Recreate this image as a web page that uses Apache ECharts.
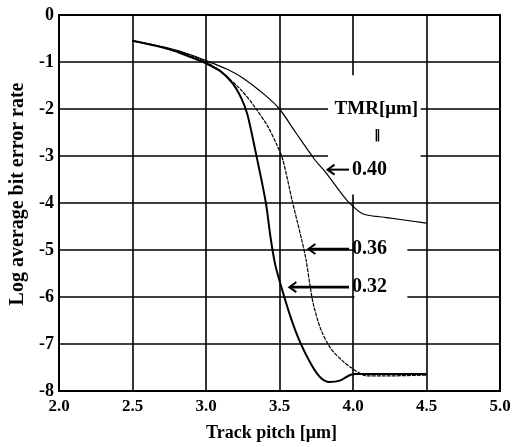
<!DOCTYPE html>
<html><head><meta charset="utf-8">
<script src="https://cdn.jsdelivr.net/npm/echarts@6/dist/echarts.min.js"></script>
<style>html,body{margin:0;padding:0;background:#fff}#c{width:532px;height:447px}</style>
</head><body><div id="c"></div>
<script>
// ---- data ----
const xTicks = ['2.0','2.5','3.0','3.5','4.0','4.5','5.0'];
const yTicks = ['0','-1','-2','-3','-4','-5','-6','-7','-8'];
const seriesNames = ['0.40','0.36','0.32'];
const tmr040 = [[2.5,-0.55],[2.75,-0.71],[2.9,-0.85],[3.0,-0.97],[3.14,-1.15],[3.25,-1.34],[3.4,-1.7],[3.5,-2.0],[3.61,-2.5],[3.74,-3.08],[3.81,-3.33],[3.9,-3.71],[3.96,-3.95],[4.0,-4.07],[4.05,-4.2],[4.1,-4.26],[4.23,-4.31],[4.5,-4.43]];
const tmr036 = [[2.5,-0.55],[2.75,-0.72],[2.9,-0.87],[3.0,-1.0],[3.1,-1.2],[3.24,-1.6],[3.33,-1.95],[3.42,-2.37],[3.48,-2.75],[3.52,-3.05],[3.59,-4.0],[3.65,-4.77],[3.68,-5.2],[3.71,-5.8],[3.73,-6.15],[3.78,-6.68],[3.85,-7.1],[3.94,-7.39],[4.0,-7.53],[4.05,-7.63],[4.1,-7.68],[4.2,-7.68],[4.5,-7.66]];
const tmr032 = [[2.5,-0.55],[2.75,-0.73],[2.9,-0.9],[3.0,-1.03],[3.1,-1.2],[3.18,-1.45],[3.24,-1.77],[3.28,-2.1],[3.31,-2.5],[3.34,-2.95],[3.38,-3.55],[3.41,-4.05],[3.44,-4.75],[3.47,-5.3],[3.51,-5.76],[3.58,-6.47],[3.64,-6.96],[3.72,-7.46],[3.78,-7.72],[3.84,-7.81],[3.91,-7.78],[3.98,-7.66],[4.02,-7.64],[4.5,-7.64]];
// annotation anchors (data coords): arrow tip on curve
const arrowTips = [[3.82,-3.29],[3.69,-4.98],[3.56,-5.79]];
const legendTitle = 'TMR[μm]';

// ---- layout / style ----
const FONT = '"Liberation Serif","DejaVu Serif",serif';
const chart = echarts.init(document.getElementById('c'), null, {renderer:'canvas'});
const lineColor = '#000';
chart.setOption({
  animation:false,
  backgroundColor:'#fff',
  grid:{left:59,right:32,top:15,bottom:56,show:true,borderColor:'#000',borderWidth:2},
  xAxis:{type:'value',min:2,max:5,interval:0.5,
    name:'Track pitch [μm]',nameLocation:'middle',nameGap:33,
    nameTextStyle:{fontFamily:FONT,fontWeight:'bold',fontSize:18,color:'#000',padding:[0,16,0,0]},
    axisLine:{show:false},axisTick:{show:false},
    axisLabel:{margin:7,fontFamily:FONT,fontWeight:'bold',fontSize:17,color:'#000',
      formatter:(v)=>xTicks[Math.round((v-2)/0.5)]},
    splitLine:{show:true,lineStyle:{color:'#000',width:1.6}}},
  yAxis:{type:'value',min:-8,max:0,interval:1,
    name:'Log average bit error rate',nameLocation:'middle',nameGap:25,
    nameTextStyle:{fontFamily:FONT,fontWeight:'bold',fontSize:20,color:'#000',padding:[0,0,0,18]},
    axisLine:{show:false},axisTick:{show:false},
    axisLabel:{margin:5,fontFamily:FONT,fontWeight:'bold',fontSize:18,color:'#000',
      formatter:(v)=>yTicks[Math.round(-v)]},
    splitLine:{show:true,lineStyle:{color:'#000',width:1.6}}},
  series:[
    {name:seriesNames[0],type:'line',data:tmr040,showSymbol:false,smooth:0.3,z:3,
      lineStyle:{color:lineColor,width:1.2}},
    {name:seriesNames[1],type:'line',data:tmr036,showSymbol:false,smooth:0.3,z:3,
      lineStyle:{color:lineColor,width:1.2,type:[4,1]}},
    {name:seriesNames[2],type:'line',data:tmr032,showSymbol:false,smooth:0.3,z:3,
      lineStyle:{color:lineColor,width:2}}
  ]
});

// gap rectangles (data coords) where the grid is interrupted by the annotation text
const gapBoxes = [[3.83,-1.28,4.46,-3.82],[4.01,-4.67,4.37,-6.05]];
const P = (x,y)=>chart.convertToPixel({gridIndex:0},[x,y]);
const g = [];
gapBoxes.forEach(b=>{
  const a=P(b[0],b[1]), c=P(b[2],b[3]);
  g.push({type:'rect',z:1,shape:{x:a[0],y:a[1],width:c[0]-a[0],height:c[1]-a[1]},style:{fill:'#fff'}});
});
const textStyle = {fontFamily:FONT,fontWeight:'bold',fontSize:20,fill:'#000'};
arrowTips.forEach((t,i)=>{
  const tip=P(t[0],t[1]);
  const startX = P(4.0,0)[0]-4;
  g.push({type:'line',z:5,shape:{x1:startX,y1:tip[1],x2:tip[0]+2,y2:tip[1]},style:{stroke:'#000',lineWidth:i===0?2:2.6}});
  g.push({type:'polyline',z:5,shape:{points:[[tip[0]+8,tip[1]-5],[tip[0]+1,tip[1]],[tip[0]+8,tip[1]+5]]},style:{stroke:'#000',lineWidth:2,fill:null}});
  g.push({type:'text',z:5,style:Object.assign({text:seriesNames[i],x:startX+3,y:tip[1],verticalAlign:'middle',align:'left'},textStyle)});
});
// legend title
const tp=P(4.05,-2.0);
g.push({type:'text',z:5,style:Object.assign({text:legendTitle,x:tp[0]+16,y:tp[1],verticalAlign:'middle',align:'center'},textStyle,{fontSize:19})});
g.push({type:'text',z:5,style:{text:'‖',x:tp[0]+17,y:tp[1]+27,verticalAlign:'middle',align:'center',fontFamily:'"DejaVu Sans"',fontWeight:'bold',fontSize:13,fill:'#000'}});
chart.setOption({graphic:g});
</script></body></html>
